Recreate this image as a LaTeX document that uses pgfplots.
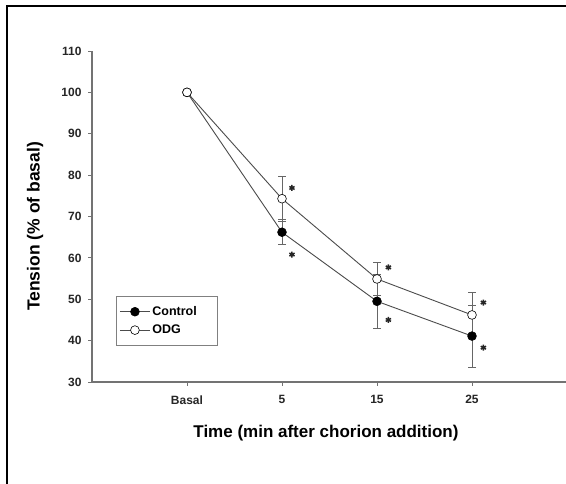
\documentclass[border=0pt]{standalone}
\usepackage{pgfplots}
\pgfplotsset{compat=1.18}
\usepackage{fontspec}
\setmainfont{Liberation Sans}
\begin{document}
\begin{tikzpicture}
\clip (0,0) rectangle (566pt,484pt);
\fill[white] (0,0) rectangle (566pt,484pt);
\draw[line width=2pt] (7pt,-10pt) -- (7pt,478pt) -- (600pt,478pt);
\begin{axis}[
  at={(92pt,102pt)}, anchor=south west,
  scale only axis, width=475pt, height=331pt,
  xmin=-1, xmax=4, ymin=30, ymax=110,
  axis x line=bottom, axis y line=left,
  axis line style={-, black!55, line width=1.1pt},
  xtick={0,1,2,3}, xticklabels={Basal,5,15,25},
  ytick={30,40,...,110},
  tick align=outside, major tick length=4pt,
  tick style={black!55, line width=0.8pt},
  /pgf/number format/assume math mode=true,
  ticklabel style={font=\fontsize{12}{14}\selectfont\bfseries, text=black!85},
  xticklabel style={yshift=-6pt},
  yticklabel style={xshift=-3pt},
  xlabel={Time (min after chorion addition)},
  ylabel={Tension (\% of basal)},
  xlabel style={font=\fontsize{17}{20}\selectfont\bfseries, at={(axis description cs:0.4926,-0.154)}, anchor=center},
  ylabel style={font=\fontsize{17.5}{20}\selectfont\bfseries, at={(axis description cs:-0.12,0.47)}, anchor=center, rotate=0},
  legend style={at={(axis description cs:0.0505,0.26)}, anchor=north west,
    draw=black!50, line width=1pt, font=\fontsize{12.5}{14}\selectfont\bfseries,
    inner xsep=3pt, inner ysep=8pt, row sep=4pt},
  legend cell align=left,
  legend image code/.code={%
    \draw[#1, mark repeat=2, mark phase=2] plot coordinates {(0pt,0pt) (15pt,0pt) (30pt,0pt)};},
  clip=false,
]
\addplot[black!70, line width=0.9pt, mark=*, mark size=4.4pt,
  mark options={fill=black, draw=black, line width=0.6pt},
  error bars/.cd, y dir=both, y explicit,
  error mark options={rotate=90, mark size=4pt, black!60, line width=0.8pt},
  error bar style={black!60, line width=0.8pt}]
  coordinates {(0,100) +- (0,0) (1,66.2) +- (0,3.0) (2,49.5) +- (0,6.5) (3,41.1) +- (0,7.5)};
\addlegendentry{\makebox[60pt][l]{Control}}
\addplot[black!70, line width=0.9pt, mark=*, mark size=4.4pt,
  mark options={fill=white, draw=black, line width=0.6pt},
  error bars/.cd, y dir=both, y explicit,
  error mark options={rotate=90, mark size=4pt, black!60, line width=0.8pt},
  error bar style={black!60, line width=0.8pt}]
  coordinates {(0,100) +- (0,0) (1,74.3) +- (0,5.4) (2,54.9) +- (0,4.0) (3,46.2) +- (0,5.4)};
\addlegendentry{ODG}
\addplot[only marks, mark=asterisk, mark size=3pt, black!85, line width=1.5pt, forget plot]
  coordinates {(1.105,76.9) (1.105,60.8) (2.12,57.7) (2.12,45.0) (3.12,49.2) (3.12,38.3)};
\end{axis}
\end{tikzpicture}
\end{document}
